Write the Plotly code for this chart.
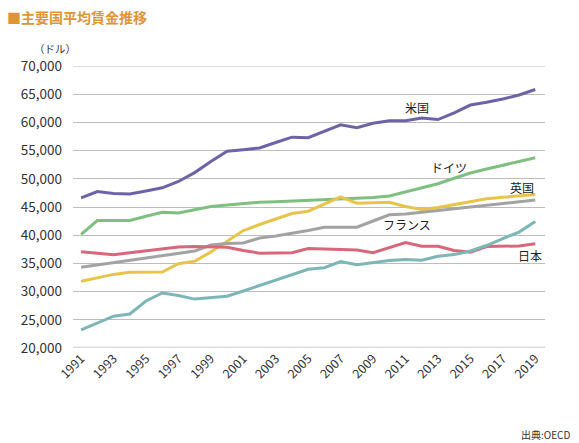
import plotly.graph_objects as go

years = list(range(1991, 2020))

usa = [46600, 47750, 47400, 47300, 47850, 48400, 49520, 51100, 53070, 54890,
       55160, 55460, 56440, 57380, 57290, 58480, 59570, 59040, 59840, 60280,
       60280, 60780, 60500, 61700, 63080, 63580, 64150, 64860, 65830]
germany = [40160, 42600, 42600, 42600, 43350, 44080, 43940, 44560, 45090, 45350,
           45620, 45850, 45940, 46060, 46190, 46280, 46350, 46490, 46700, 46950,
           47700, 48350, 49130, 50100, 51030, 51750, 52410, 53050, 53720]
uk = [31840, 32410, 33050, 33440, 33420, 33480, 34950, 35390, 37020, 38970,
      40830, 41900, 42840, 43850, 44260, 45500, 46810, 45670, 45760, 45830,
      45090, 44560, 44910, 45440, 45920, 46470, 46720, 46970, 47220]
france = [34330, 34720, 35100, 35500, 35890, 36280, 36670, 37180, 38260, 38530,
          38620, 39500, 39860, 40300, 40830, 41400, 41370, 41420, 42520, 43630,
          43760, 44060, 44380, 44700, 45000, 45320, 45620, 45940, 46240]
japan = [37060, 36790, 36540, 36880, 37220, 37550, 37890, 38000, 38000, 37870,
         37290, 36810, 36840, 36880, 37650, 37600, 37520, 37380, 36900, 37780,
         38710, 38050, 38050, 37300, 36990, 38000, 38000, 38090, 38490]
korea = [23230, 24410, 25640, 26030, 28330, 29750, 29310, 28670, 28870, 29170,
         30110, 31080, 32060, 33120, 33960, 34240, 35340, 34770, 35160, 35510,
         35690, 35550, 36280, 36560, 37200, 38170, 39410, 40550, 42430]

y_ticks = list(range(20000, 70001, 5000))
x_ticks = list(range(1991, 2020, 2))

series = [
    ("米国", usa, "#6c63a8"),
    ("ドイツ", germany, "#7fbf80"),
    ("英国", uk, "#e8c54a"),
    ("フランス", france, "#a3a3a3"),
    ("日本", japan, "#d8677b"),
    ("韓国", korea, "#7db6b7"),
]

FONT = "Noto Sans CJK JP"
fig = go.Figure()
for name, vals, color in series:
    fig.add_trace(go.Scatter(x=years, y=vals, mode="lines", name=name,
                             line=dict(color=color, width=3)))

# series labels
labels = [
    ("米国", 2011.7, 62640),
    ("ドイツ", 2013.7, 52000),
    ("英国", 2018.2, 48460),
    ("フランス", 2011.1, 41900),
    ("韓国", 2019.87, 42600),
    ("日本", 2018.67, 36400),
]
for text, lx, ly in labels:
    fig.add_annotation(x=lx, y=ly, text=text, showarrow=False,
                       font=dict(family=FONT, size=12, color="#222222"),
                       xanchor="center", yanchor="middle")

fig.add_shape(type="line", xref="paper", yref="y", x0=0, x1=1, y0=70000, y1=70000,
              line=dict(color="#dcdcdc", width=2), layer="below")
fig.add_shape(type="line", xref="paper", yref="y", x0=0, x1=1, y0=20000, y1=20000,
              line=dict(color="#dcdcdc", width=3), layer="below")

fig.add_annotation(xref="paper", yref="paper", x=(32 - 73) / 472, y=(348 - 48) / 282,
                   text="（ドル）", showarrow=False, xanchor="left", yanchor="middle",
                   font=dict(family=FONT, size=10.5, color="#333333"))
fig.add_annotation(xref="paper", yref="paper", x=1.0 + 27 / 472, y=-86 / 282,
                   text="出典:OECD", showarrow=False, xanchor="right", yanchor="middle",
                   font=dict(family=FONT, size=10, color="#333333"))

fig.update_layout(
    width=579, height=443,
    margin=dict(l=73, r=34, t=66, b=95),
    paper_bgcolor="white", plot_bgcolor="white",
    showlegend=False,
    title=dict(text="<b>■主要国平均賃金推移</b>", x=0.012, xanchor="left",
               y=1 - 18 / 443, yanchor="middle",
               font=dict(family=FONT, size=14, color="#e0943a")),
    font=dict(family=FONT, color="#333333"),
)
fig.update_xaxes(range=[1990.5, 2019.6], tickmode="array", tickvals=x_ticks,
                 ticktext=[str(v) for v in x_ticks], tickangle=-45,
                 showgrid=False, zeroline=False, showline=False, ticks="",
                 tickfont=dict(family=FONT, size=12.5, color="#333333"))
fig.update_yaxes(range=[20000, 70000], tickmode="array", tickvals=y_ticks,
                 ticktext=[f"{v:,}" for v in y_ticks],
                 showgrid=True, gridcolor="#bdbdbd", gridwidth=1,
                 zeroline=False, showline=False, ticks="", ticklabelstandoff=10,
                 tickfont=dict(family=FONT, size=13.5, color="#333333"))

fig.write_html("out.html", config={"displayModeBar": False},
               post_script="document.body.style.margin='0';document.body.style.padding='0';")
